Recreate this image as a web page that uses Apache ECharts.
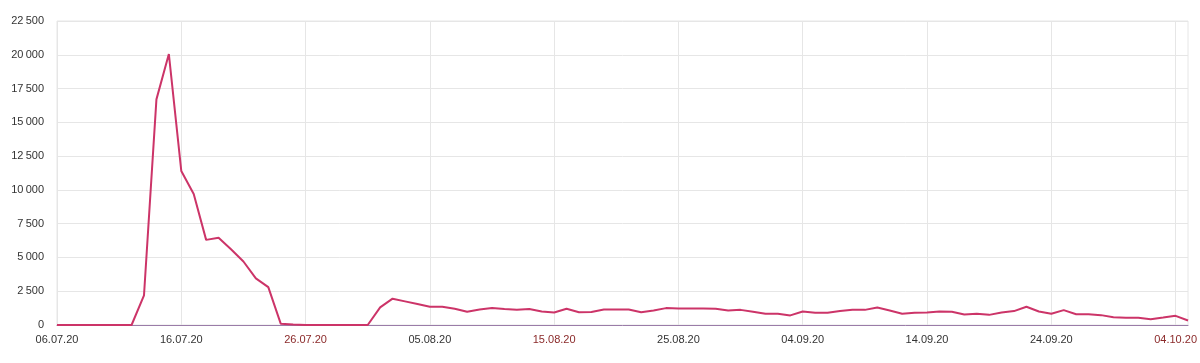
<!DOCTYPE html>
<html>
<head>
<meta charset="utf-8">
<script src="https://cdn.jsdelivr.net/npm/echarts@6/dist/echarts.min.js"></script>
<style>
html,body{margin:0;padding:0;background:#fff;}
#c{width:1200px;height:363px;}
</style>
</head>
<body>
<div id="c"></div>
<script>
var startDate = '2020-07-06';
var values = [
  0, 0, 0, 0, 0, 0, 0, 2200, 16700, 20050,
  11400, 9700, 6300, 6450, 5600, 4700, 3450, 2800, 100, 30,
  0, 0, 0, 0, 0, 0, 1300, 1950, 1750, 1550,
  1350, 1350, 1200, 980, 1150, 1250, 1180, 1130, 1180, 1000,
  930, 1200, 950, 970, 1150, 1150, 1150, 950, 1070, 1250,
  1220, 1220, 1220, 1200, 1070, 1120, 980, 830, 830, 710,
  1000, 900, 900, 1030, 1120, 1120, 1300, 1070, 830, 900,
  930, 1000, 980, 780, 830, 750, 930, 1030, 1350, 1000,
  830, 1100, 800, 800, 730, 580, 530, 530, 430, 550,
  680, 330
];
var yTicks = [0, 2500, 5000, 7500, 10000, 12500, 15000, 17500, 20000, 22500];

function pad(n){return (n<10?'0':'')+n;}
var categories = [];
var weekend = [];
(function(){
  var d = new Date(startDate + 'T00:00:00Z');
  for (var i = 0; i < values.length; i++) {
    var t = new Date(d.getTime() + i*86400000);
    categories.push(pad(t.getUTCDate()) + '.' + pad(t.getUTCMonth()+1) + '.' + String(t.getUTCFullYear()).slice(2));
    var wd = t.getUTCDay();
    weekend.push(wd === 0 || wd === 6);
  }
})();

function fmt(v){
  var s = String(Math.round(v));
  return s.replace(/\B(?=(\d{3})+(?!\d))/g, '\u2009');
}

var chart = echarts.init(document.getElementById('c'), null, {renderer:'canvas'});
chart.setOption({
  animation: false,
  backgroundColor: '#ffffff',
  grid: {left: 57, right: 11, top: 21, bottom: 38, containLabel: false,
         show: true, borderColor: '#e6e6e6', borderWidth: 1},
  xAxis: {
    type: 'category',
    data: categories,
    boundaryGap: false,
    axisLine: {show: true, lineStyle: {color: '#9a7ca8', width: 1}},
    axisTick: {show: false},
    axisLabel: {
      interval: 9,
      margin: 9,
      fontFamily: 'Liberation Sans, Arial, sans-serif',
      fontSize: 11,
      color: function(value, index){
        var i = categories.indexOf(value);
        return weekend[i] ? '#8b2a2a' : '#333333';
      }
    },
    splitLine: {show: true, interval: 9, lineStyle: {color: '#e6e6e6', width: 1}}
  },
  yAxis: {
    type: 'value',
    min: yTicks[0],
    max: yTicks[yTicks.length-1],
    interval: yTicks[1]-yTicks[0],
    axisLine: {show: false},
    axisTick: {show: false},
    axisLabel: {
      margin: 13,
      fontFamily: 'Liberation Sans, Arial, sans-serif',
      fontSize: 11,
      color: '#333333',
      formatter: fmt
    },
    splitLine: {show: true, lineStyle: {color: '#e6e6e6', width: 1}}
  },
  series: [{
    type: 'line',
    data: values,
    symbol: 'none',
    smooth: false,
    lineStyle: {color: '#cc3468', width: 2},
    itemStyle: {color: '#cc3468'},
    z: 3
  }]
});
</script>
</body>
</html>
